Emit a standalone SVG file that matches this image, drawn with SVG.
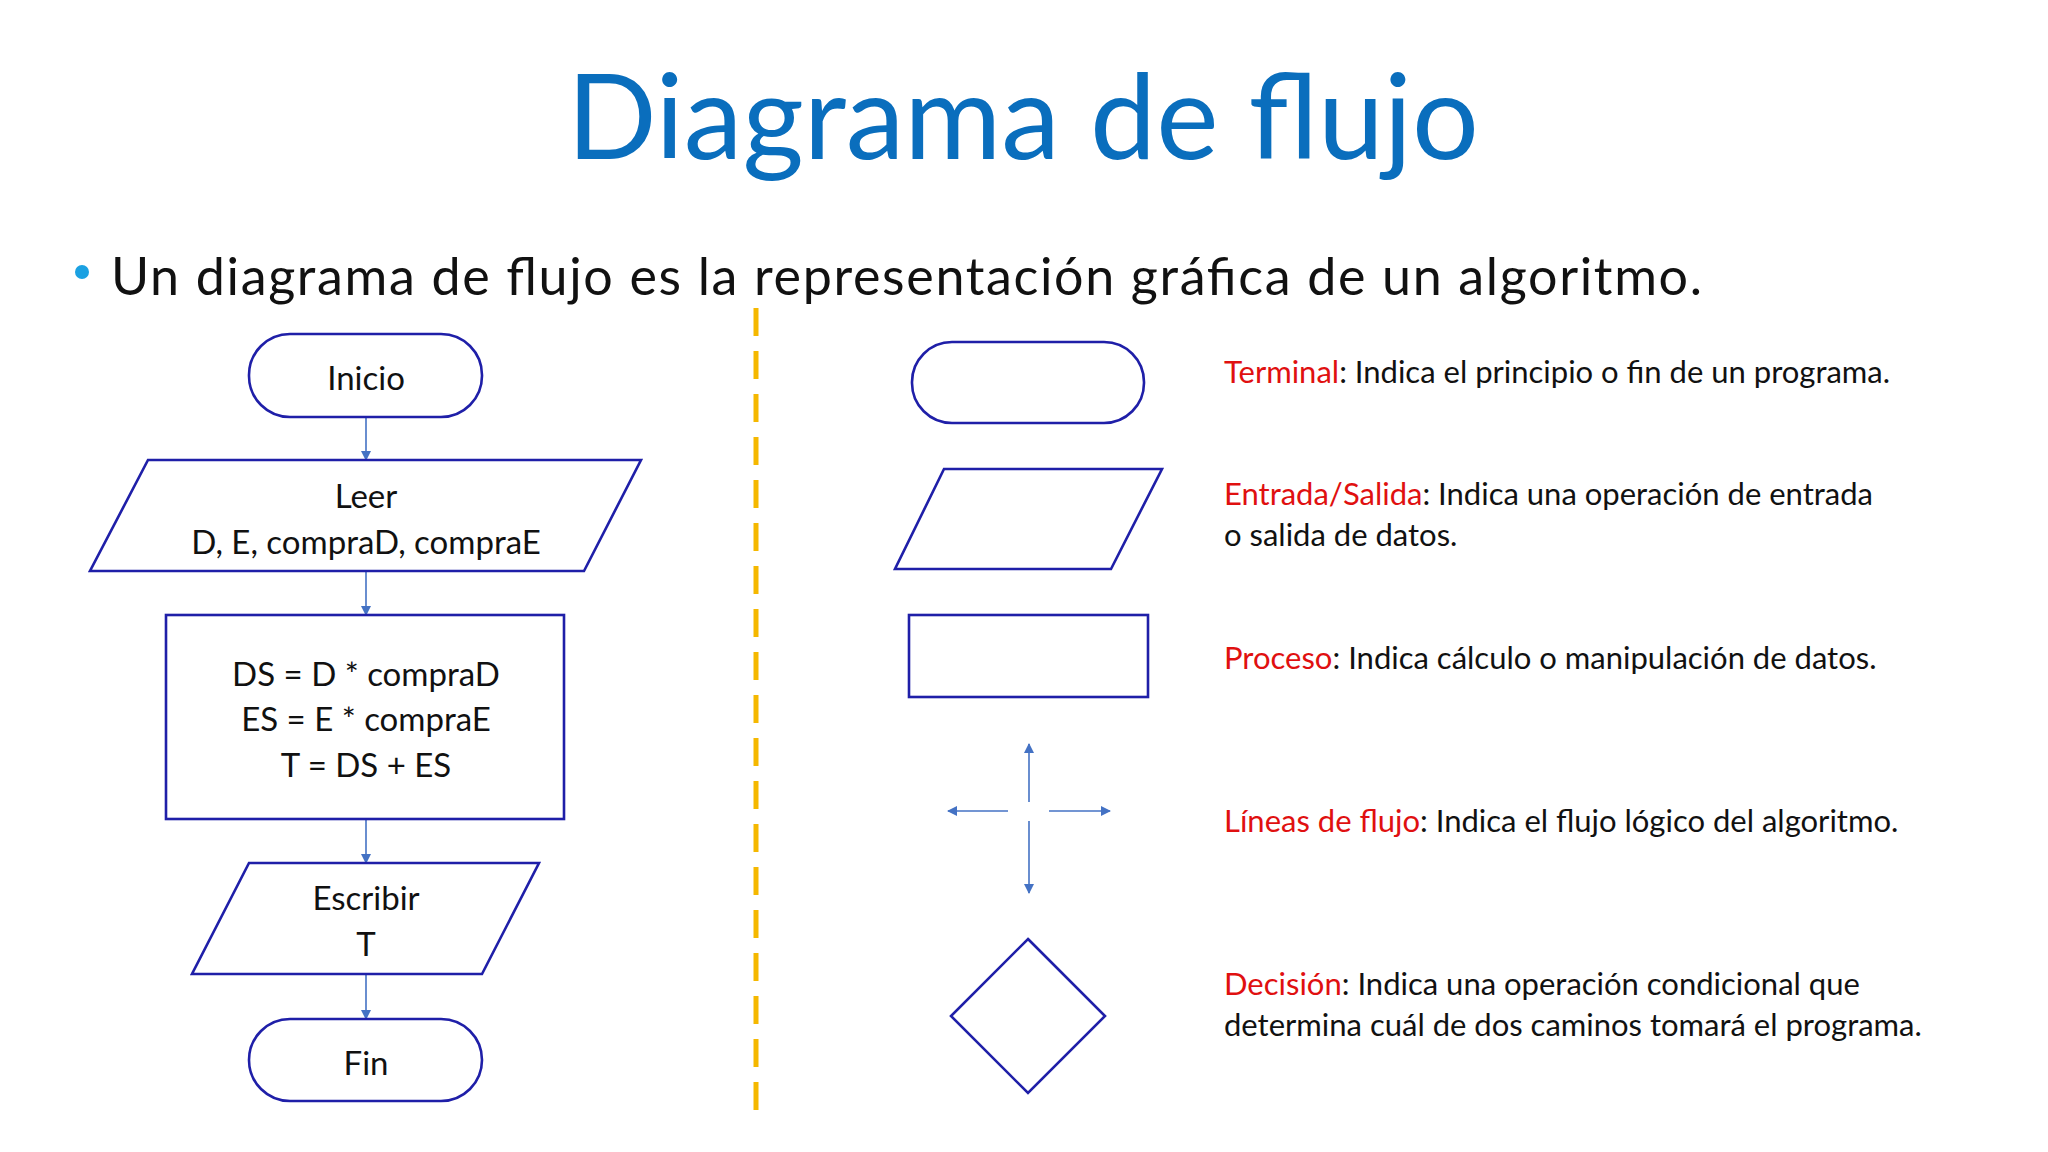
<svg xmlns="http://www.w3.org/2000/svg" width="2048" height="1152" viewBox="0 0 2048 1152">
<style>
text{font-family:Lato,"Open Sans","Liberation Sans",sans-serif;fill:#111}
.s{fill:#fff;stroke:#1F1FA8;stroke-width:2.6}
.c{stroke:#4472C4;stroke-width:1.6;fill:none}
.n{font-size:33px;text-anchor:middle}
.d{font-size:31px}
.r{fill:#E01010}
</style>
<defs><marker id="a" markerWidth="10" markerHeight="10" refX="9" refY="5" orient="auto" markerUnits="userSpaceOnUse"><path d="M0,0L10,5L0,10z" fill="#4472C4"/></marker></defs>
<rect width="2048" height="1152" fill="#fff"/>
<text x="1023" y="159" font-size="118" text-anchor="middle" style="fill:#0A6EBD" textLength="912">Diagrama de flujo</text>
<circle cx="82" cy="272" r="7" fill="#1BA1E2"/>
<text x="111" y="295" font-size="52" textLength="1591">Un diagrama de flujo es la representación gráfica de un algoritmo.</text>
<line x1="756" y1="308" x2="756" y2="1125" stroke="#F5B800" stroke-width="5" stroke-dasharray="28,15"/>
<g id="connectors">
<line class="c" x1="366" y1="417" x2="366" y2="460" marker-end="url(#a)"/>
<line class="c" x1="366" y1="571" x2="366" y2="615" marker-end="url(#a)"/>
<line class="c" x1="366" y1="819" x2="366" y2="863" marker-end="url(#a)"/>
<line class="c" x1="366" y1="974" x2="366" y2="1019" marker-end="url(#a)"/>
<line class="c" x1="1029" y1="802" x2="1029" y2="744" marker-end="url(#a)"/>
<line class="c" x1="1029" y1="821" x2="1029" y2="893" marker-end="url(#a)"/>
<line class="c" x1="1008" y1="811" x2="948" y2="811" marker-end="url(#a)"/>
<line class="c" x1="1049" y1="811" x2="1110" y2="811" marker-end="url(#a)"/>
</g>
<g id="inicio"><rect class="s" x="249" y="334" width="233" height="83" rx="41"/><text class="n" x="366" y="390">Inicio</text></g>
<g id="leer"><polygon class="s" points="148,460 641,460 584,571 90,571"/><text class="n" x="366" y="508">Leer</text><text class="n" x="366" y="554">D, E, compraD, compraE</text></g>
<g id="proceso"><rect class="s" x="166" y="615" width="398" height="204"/><text class="n" x="366" y="686">DS = D * compraD</text><text class="n" x="366" y="731">ES = E * compraE</text><text class="n" x="366" y="777">T = DS + ES</text></g>
<g id="escribir"><polygon class="s" points="249,863 539,863 482,974 192,974"/><text class="n" x="366" y="910">Escribir</text><text class="n" x="366" y="956">T</text></g>
<g id="fin"><rect class="s" x="249" y="1019" width="233" height="82" rx="41"/><text class="n" x="366" y="1075">Fin</text></g>
<g id="leg-terminal"><rect class="s" x="912" y="342" width="232" height="81" rx="40"/></g>
<g id="leg-io"><polygon class="s" points="944,469 1162,469 1111,569 895,569"/></g>
<g id="leg-proc"><rect class="s" x="909" y="615" width="239" height="82"/></g>
<g id="leg-dec"><polygon class="s" points="1028,939 1105,1016 1028,1093 951,1016"/></g>
<g id="legend-text" class="d">
<text class="d" x="1224" y="383"><tspan class="r">Terminal</tspan>: Indica el principio o fin de un programa.</text>
<text class="d" x="1224" y="505"><tspan class="r">Entrada/Salida</tspan>: Indica una operación de entrada</text>
<text class="d" x="1224" y="546">o salida de datos.</text>
<text class="d" x="1224" y="669"><tspan class="r">Proceso</tspan>: Indica cálculo o manipulación de datos.</text>
<text class="d" x="1224" y="832"><tspan class="r">Líneas de flujo</tspan>: Indica el flujo lógico del algoritmo.</text>
<text class="d" x="1224" y="995"><tspan class="r">Decisión</tspan>: Indica una operación condicional que</text>
<text class="d" x="1224" y="1036">determina cuál de dos caminos tomará el programa.</text>
</g>
</svg>
